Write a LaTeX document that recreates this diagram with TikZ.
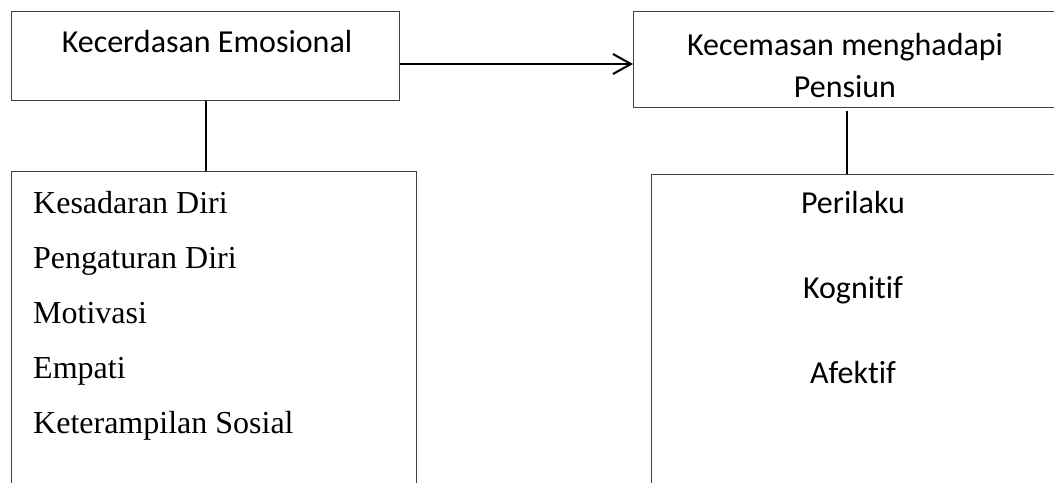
\documentclass[tikz,border=0pt]{standalone}
\usepackage{fontspec}
\setmainfont{Liberation Serif}
\newfontfamily\calibri[Ligatures=NoCommon]{Carlito}
\usetikzlibrary{arrows.meta}

\begin{document}
\begin{tikzpicture}[x=1pt, y=-1pt]
  \tikzstyle{bnode} = [draw=black!75, line width=1pt, rectangle, inner sep=0pt, anchor=north west]
  \tikzstyle{cnode} = [inner sep=0pt, anchor=base, align=center, font=\calibri\fontsize{32}{42}\selectfont]
  \tikzstyle{snode} = [inner sep=0pt, anchor=base west, align=left, font=\fontsize{32}{55}\selectfont]
  \tikzstyle{link} = [line width=2pt, black]

  \clip (0,0) rectangle (1054,482);

  %%%%%%%%%%%%%%%%%%%%%%%%%%%%%%
  %% The two variables
  %%%%%%%%%%%%%%%%%%%%%%%%%%%%%%
  \node[bnode, minimum width=388, minimum height=89] (emo) at (11,11) {};
  \node[cnode] (emotxt) at (207,52) {Kecerdasan Emosional};

  \node[bnode, minimum width=426, minimum height=96] (pens) at (633,11) {};
  \node[cnode] (penstxt) at (845,97) {Kecemasan menghadapi\\Pensiun};

  %%%%%%%%%%%%%%%%%%%%%%%%%%%%%%
  %% The indicators
  %%%%%%%%%%%%%%%%%%%%%%%%%%%%%%
  \node[bnode, minimum width=405, minimum height=360] (dim) at (11,171) {};
  \node[snode] (dimtxt) at (33,433) {Kesadaran Diri\\Pengaturan Diri\\Motivasi\\Empati\\Keterampilan Sosial};

  \node[bnode, minimum width=410, minimum height=360] (ind) at (651,174) {};
  \node[cnode, font=\calibri\fontsize{32}{85}\selectfont] (indtxt) at (853,383) {Perilaku\\Kognitif\\Afektif};

  % edges
  \draw[link, -{Straight Barb[length=18pt, width=20pt, line width=2pt]}] ([yshift=-8pt]emo.east) -- ([yshift=-8pt]emo.east -| pens.west);
  \draw[link] (emo.south) -- (emo.south |- dim.north);
  \draw[link] ([yshift=-3pt]pens.south) -- (pens.south |- ind.north);

\end{tikzpicture}
\end{document}
